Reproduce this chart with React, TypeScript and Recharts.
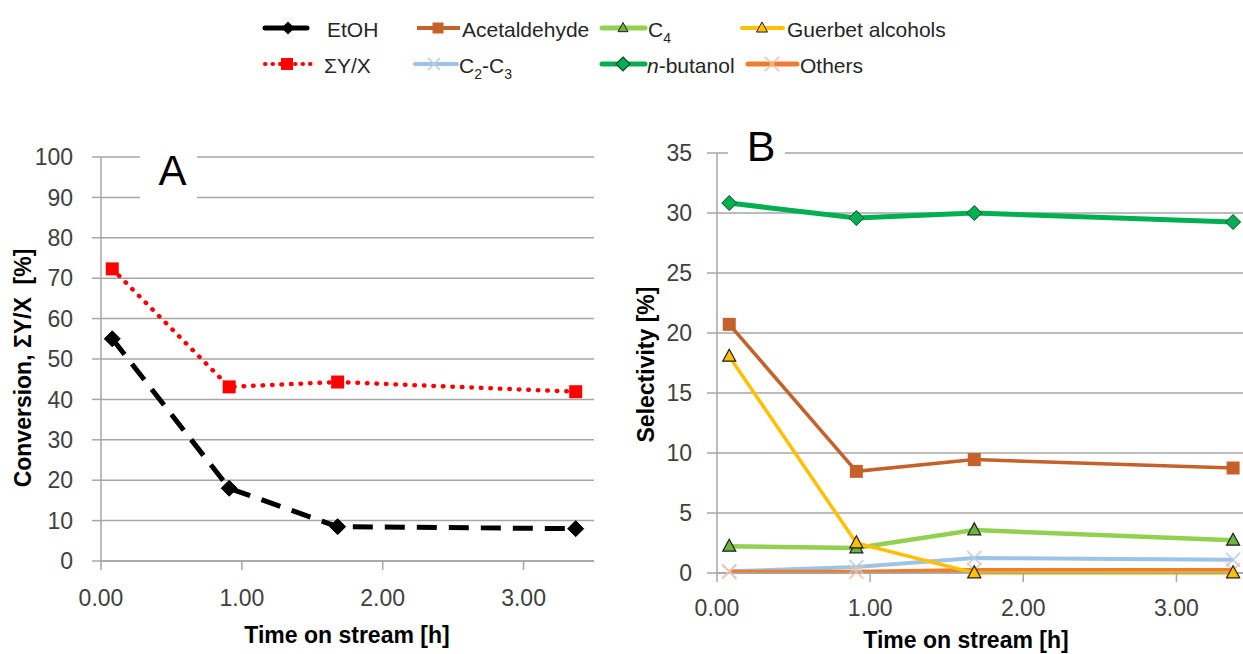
import React from 'react';
import { LineChart, Line, XAxis, YAxis, CartesianGrid } from 'recharts';

// ---------- data ----------
const TIME_H = [0.08, 0.91, 1.68, 3.37];
const ETOH = [55.0, 18.0, 8.5, 8.0];
const SUM_YX = [72.3, 43.1, 44.3, 41.9];
const ACETALDEHYDE = [20.72, 8.47, 9.45, 8.75];
const C2_C3 = [0.14, 0.5, 1.25, 1.1];
const C4 = [2.22, 2.08, 3.58, 2.72];
const N_BUTANOL = [30.83, 29.58, 30.0, 29.25];
const GUERBET = [18.05, 2.5, 0, 0];
const OTHERS = [0.1, 0.1, 0.25, 0.25];

const X_TICKS = [0, 1, 2, 3];
const Y_TICKS_A = [0, 10, 20, 30, 40, 50, 60, 70, 80, 90, 100];
const Y_TICKS_B = [0, 5, 10, 15, 20, 25, 30, 35];

const rowsA = TIME_H.map((t, i) => ({ t, etoh: ETOH[i], sumYX: SUM_YX[i] }));
const rowsB = TIME_H.map((t, i) => ({
  t,
  acet: ACETALDEHYDE[i],
  c2c3: C2_C3[i],
  c4: C4[i],
  nbut: N_BUTANOL[i],
  guer: GUERBET[i],
  oth: OTHERS[i],
}));

// ---------- styles ----------
const FONT = "'Liberation Sans', Arial, sans-serif";
const GRID = '#A6A6A6';
const TICK_COLOR = '#404040';
const C_ACET = '#C5612A';
const C_C2C3 = '#9DC3E6';
const C_C2C3_M = '#B4D0EC';
const C_C4 = '#92D050';
const C_C4_M = '#6DB33F';
const C_NBUT = '#00B050';
const C_GUER = '#FFC000';
const C_OTH = '#ED7D31';
const C_OTH_M = '#F7C0A0';

// ---------- marker shapes ----------
const diamondPath = (cx: number, cy: number, r: number) =>
  `M${cx},${cy - r}L${cx + r},${cy}L${cx},${cy + r}L${cx - r},${cy}Z`;
const trianglePath = (cx: number, cy: number, w: number) => {
  const h = w * 0.92;
  return `M${cx},${cy - h * 0.6}L${cx + w / 2},${cy + h * 0.4}L${cx - w / 2},${cy + h * 0.4}Z`;
};

const diamondDot = (fill: string, stroke: string, r: number) => (p: any) => {
  const { cx, cy, index } = p;
  if (cx == null || cy == null) return <g key={`dm${index}`} />;
  return <path key={`dm${index}`} d={diamondPath(cx, cy, r)} fill={fill} stroke={stroke} strokeWidth={1} />;
};
const squareDot = (fill: string, s: number) => (p: any) => {
  const { cx, cy, index } = p;
  if (cx == null || cy == null) return <g key={`sq${index}`} />;
  return <rect key={`sq${index}`} x={cx - s / 2} y={cy - s / 2} width={s} height={s} fill={fill} />;
};
const triangleDot = (fill: string, stroke: string, w: number) => (p: any) => {
  const { cx, cy, index } = p;
  if (cx == null || cy == null) return <g key={`tr${index}`} />;
  return <path key={`tr${index}`} d={trianglePath(cx, cy, w)} fill={fill} stroke={stroke} strokeWidth={1.2} />;
};
const crossDot = (stroke: string, r: number) => (p: any) => {
  const { cx, cy, index } = p;
  if (cx == null || cy == null) return <g key={`cx${index}`} />;
  return (
    <g key={`cx${index}`}>
      <line x1={cx - r} y1={cy - r} x2={cx + r} y2={cy + r} stroke={stroke} strokeWidth={1.6} />
      <line x1={cx - r} y1={cy + r} x2={cx + r} y2={cy - r} stroke={stroke} strokeWidth={1.6} />
    </g>
  );
};

const tickStyle = { fontFamily: FONT, fontSize: 23, fill: TICK_COLOR };
const axisLine = { stroke: GRID, strokeWidth: 1.5 };

const titleStyle: React.CSSProperties = { fontFamily: FONT, fontSize: 23, fontWeight: 'bold', whiteSpace: 'pre' };
const legendText: React.CSSProperties = { fontFamily: FONT, fontSize: 21, fill: '#262626' };

export default function App() {
  return (
    <div
      style={{
        position: 'absolute',
        left: 0,
        top: 0,
        width: 1243,
        height: 654,
        overflow: 'hidden',
        background: '#fff',
      }}
    >
      {/* Chart A */}
      <div style={{ position: 'absolute', left: 0, top: 0 }}>
        <LineChart width={620} height={654} data={rowsA} margin={{ top: 157, right: 26, bottom: 53, left: 41 }}>
          <CartesianGrid vertical={false} stroke={GRID} strokeWidth={1.5} />
          <XAxis
            type="number"
            dataKey="t"
            domain={[0, 3.5]}
            ticks={X_TICKS}
            interval={0}
            allowDataOverflow
            tickFormatter={(v: number) => v.toFixed(2)}
            height={40}
            tickSize={9}
            tickMargin={20}
            axisLine={axisLine}
            tickLine={axisLine}
            tick={tickStyle}
          />
          <YAxis
            type="number"
            domain={[0, 100]}
            ticks={Y_TICKS_A}
            interval={0}
            width={60}
            tickSize={9}
            tickMargin={19}
            axisLine={axisLine}
            tickLine={axisLine}
            tick={tickStyle}
          />
          <Line
            dataKey="sumYX"
            stroke="#FF0000"
            strokeWidth={4.5}
            strokeDasharray="0.5 9"
            strokeLinecap="round"
            dot={squareDot('#FF0000', 13)}
            isAnimationActive={false}
          />
          <Line
            dataKey="etoh"
            stroke="#000000"
            strokeWidth={5}
            strokeDasharray="20 12"
            dot={diamondDot('#000000', '#000000', 8)}
            isAnimationActive={false}
          />
        </LineChart>
      </div>

      {/* Chart B */}
      <div style={{ position: 'absolute', left: 620, top: 0 }}>
        <LineChart width={640} height={654} data={rowsB} margin={{ top: 153, right: 7, bottom: 41, left: 37 }}>
          <CartesianGrid vertical={false} stroke={GRID} strokeWidth={1.5} />
          <XAxis
            type="number"
            dataKey="t"
            domain={[0, 3.5]}
            ticks={X_TICKS}
            interval={0}
            allowDataOverflow
            tickFormatter={(v: number) => v.toFixed(2)}
            height={40}
            tickSize={9}
            tickMargin={18}
            axisLine={axisLine}
            tickLine={axisLine}
            tick={tickStyle}
          />
          <YAxis
            type="number"
            domain={[0, 35]}
            ticks={Y_TICKS_B}
            interval={0}
            width={60}
            tickSize={10}
            tickMargin={15}
            axisLine={axisLine}
            tickLine={axisLine}
            tick={tickStyle}
          />
          <Line dataKey="c2c3" stroke={C_C2C3} strokeWidth={4} dot={crossDot(C_C2C3_M, 7)} isAnimationActive={false} />
          <Line dataKey="oth" stroke={C_OTH} strokeWidth={4} dot={crossDot(C_OTH_M, 7)} isAnimationActive={false} />
          <Line dataKey="c4" stroke={C_C4} strokeWidth={4.5} dot={triangleDot(C_C4_M, '#1E1E1E', 13)} isAnimationActive={false} />
          <Line dataKey="guer" stroke={C_GUER} strokeWidth={3.5} dot={triangleDot(C_GUER, '#1E1E1E', 13)} isAnimationActive={false} />
          <Line dataKey="acet" stroke={C_ACET} strokeWidth={3.5} dot={squareDot(C_ACET, 13)} isAnimationActive={false} />
          <Line dataKey="nbut" stroke={C_NBUT} strokeWidth={5} dot={diamondDot(C_NBUT, '#14452A', 7.5)} isAnimationActive={false} />
        </LineChart>
      </div>

      {/* Overlay: panel letters, axis titles, legend */}
      <svg width={1243} height={654} style={{ position: 'absolute', left: 0, top: 0, pointerEvents: 'none' }}>
        <rect x={140} y={148} width={57} height={55} fill="#fff" />
        <text x={172.5} y={185} textAnchor="middle" style={{ fontFamily: FONT, fontSize: 42 }} fill="#000">A</text>
        <rect x={728} y={143} width={57} height={18} fill="#fff" />
        <text x={761} y={161} textAnchor="middle" style={{ fontFamily: FONT, fontSize: 43 }} fill="#000">B</text>

        <text x={23} y={368} textAnchor="middle" dominantBaseline="central" transform="rotate(-90 23 368)" style={titleStyle} fill="#000">
          {'Conversion, ΣY/X  [%]'}
        </text>
        <text x={646} y={364.5} textAnchor="middle" dominantBaseline="central" transform="rotate(-90 646 364.5)" style={titleStyle} fill="#000">
          {'Selectivity [%]'}
        </text>
        <text x={347} y={643} textAnchor="middle" style={titleStyle} fill="#000">Time on stream [h]</text>
        <text x={966} y={648} textAnchor="middle" style={titleStyle} fill="#000">Time on stream [h]</text>

        {/* Legend row 1 */}
        <line x1={265} y1={28} x2={307} y2={28} stroke="#000" strokeWidth={5} strokeLinecap="round" />
        <path d={diamondPath(288, 28, 6.5)} fill="#000" />
        <text x={327} y={37} style={legendText}>EtOH</text>

        <line x1={417} y1={28} x2={460} y2={28} stroke={C_ACET} strokeWidth={4} />
        <rect x={432.5} y={22.5} width={11} height={11} fill={C_ACET} />
        <text x={462} y={37} style={legendText}>Acetaldehyde</text>

        <line x1={602} y1={28} x2={645} y2={28} stroke={C_C4} strokeWidth={5} strokeLinecap="round" />
        <path d={trianglePath(623, 28, 10)} fill={C_C4_M} stroke="#1E1E1E" strokeWidth={1} />
        <text x={648} y={37} style={legendText}>
          C<tspan dy={6} style={{ fontSize: 14 }}>4</tspan>
        </text>

        <line x1={742} y1={28} x2={783} y2={28} stroke={C_GUER} strokeWidth={4} strokeLinecap="round" />
        <path d={trianglePath(762, 28, 11)} fill={C_GUER} stroke="#1E1E1E" strokeWidth={1} />
        <text x={787} y={37} style={legendText}>Guerbet alcohols</text>

        {/* Legend row 2 */}
        <line x1={265} y1={64} x2={315} y2={64} stroke="#FF0000" strokeWidth={4} strokeDasharray="0.5 7" strokeLinecap="round" />
        <rect x={281} y={58} width={12} height={12} fill="#FF0000" />
        <text x={324} y={73} style={legendText}>ΣY/X</text>

        <line x1={415} y1={64} x2={457} y2={64} stroke={C_C2C3} strokeWidth={4} strokeLinecap="round" />
        <line x1={428} y1={58} x2={440} y2={70} stroke={C_C2C3_M} strokeWidth={1.6} />
        <line x1={428} y1={70} x2={440} y2={58} stroke={C_C2C3_M} strokeWidth={1.6} />
        <text x={459} y={73} style={legendText}>
          C<tspan dy={6} style={{ fontSize: 14 }}>2</tspan>
          <tspan dy={-6}>-C</tspan>
          <tspan dy={6} style={{ fontSize: 14 }}>3</tspan>
        </text>

        <line x1={602} y1={64} x2={645} y2={64} stroke={C_NBUT} strokeWidth={5} strokeLinecap="round" />
        <path d={diamondPath(623, 64, 7)} fill={C_NBUT} stroke="#14452A" strokeWidth={1.2} />
        <text x={647} y={73} style={legendText}>
          <tspan style={{ fontStyle: 'italic' }}>n</tspan>-butanol
        </text>

        <line x1={748} y1={64} x2={797} y2={64} stroke={C_OTH} strokeWidth={5} strokeLinecap="round" />
        <line x1={765} y1={57} x2={779} y2={71} stroke={C_OTH_M} strokeWidth={1.6} />
        <line x1={765} y1={71} x2={779} y2={57} stroke={C_OTH_M} strokeWidth={1.6} />
        <text x={800} y={73} style={legendText}>Others</text>
      </svg>
    </div>
  );
}
